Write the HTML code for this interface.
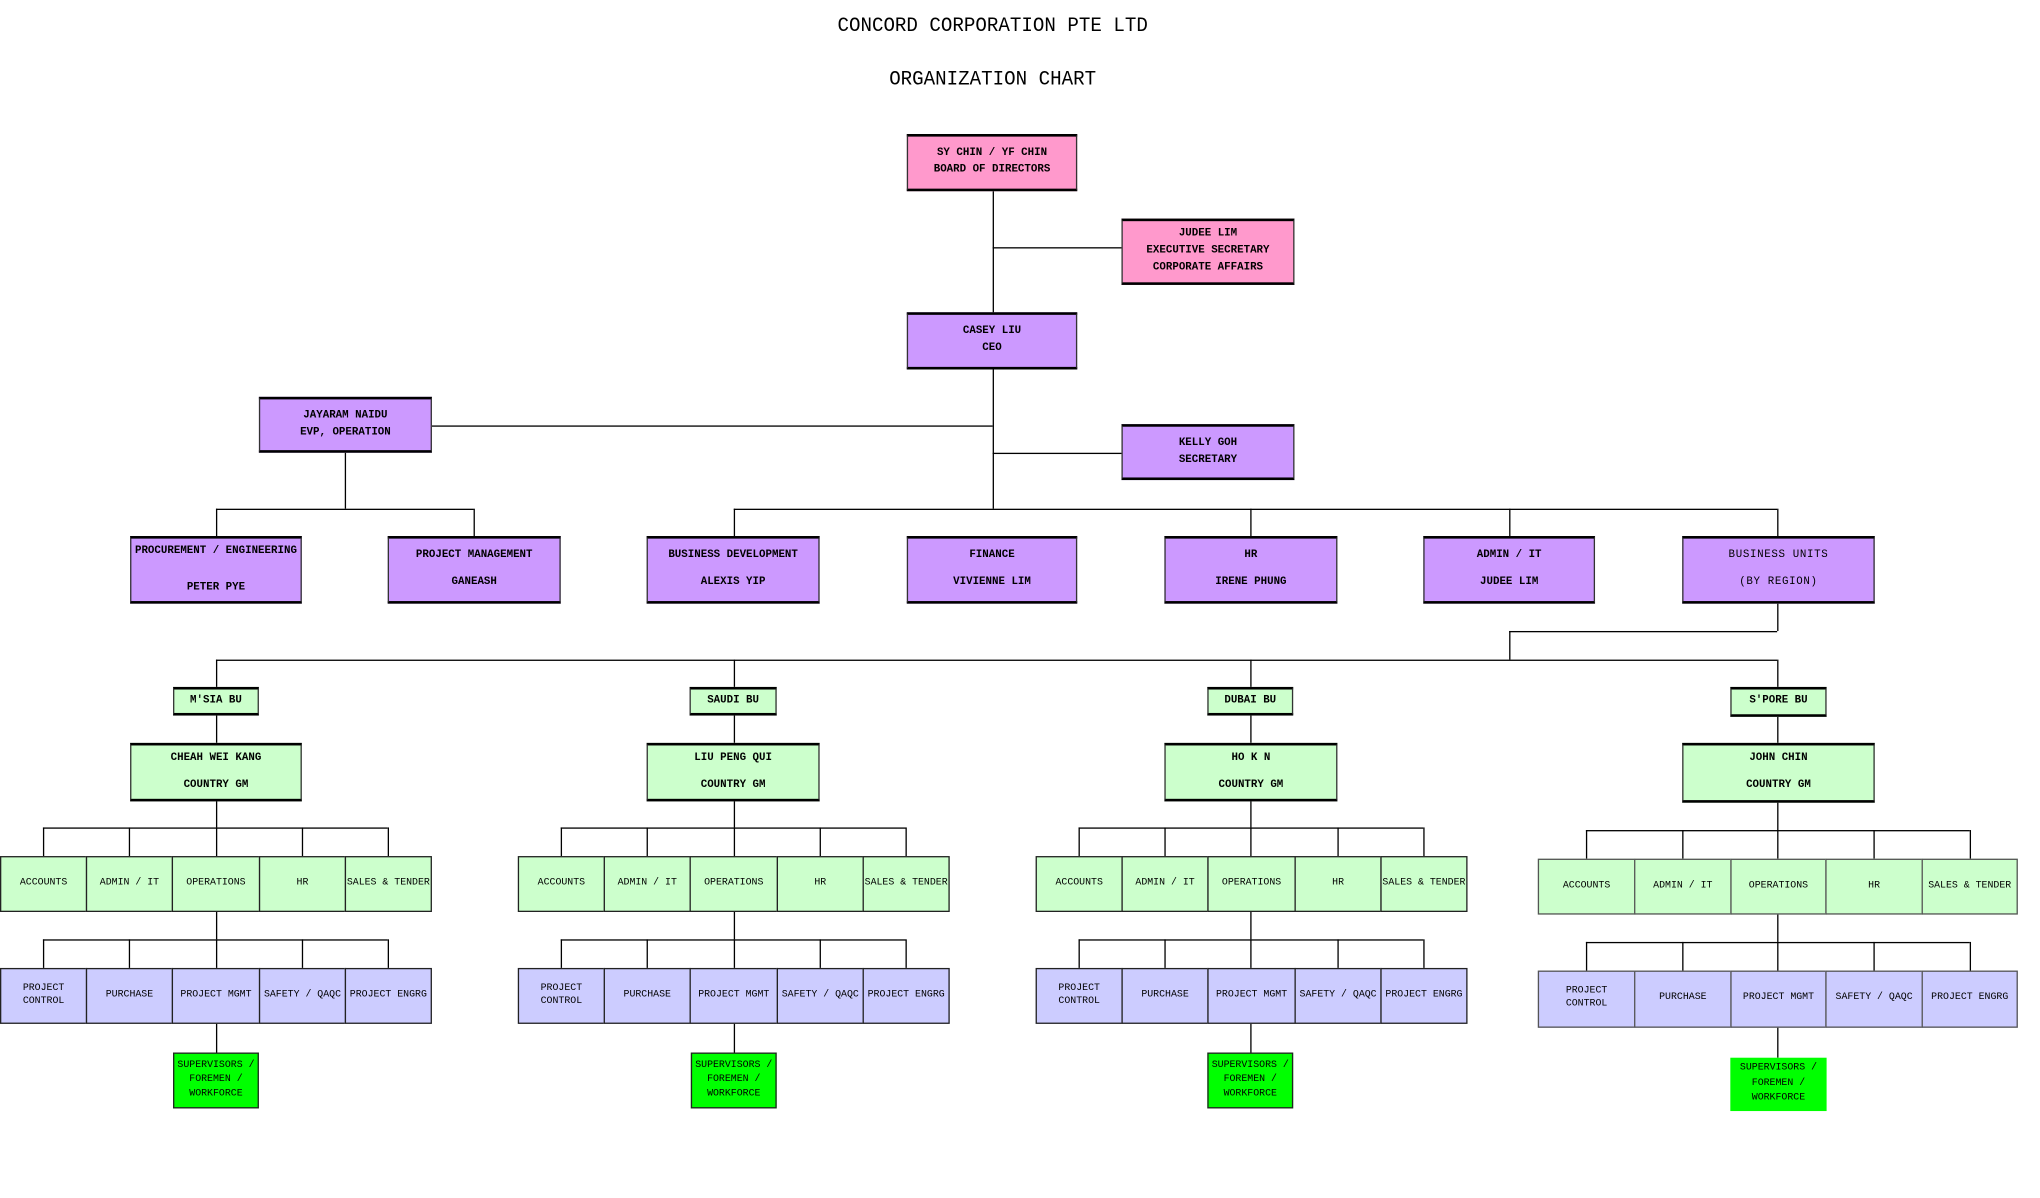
<!DOCTYPE html>
<html><head><meta charset="utf-8"><style>
html,body{margin:0;padding:0;background:#fff;width:2040px;height:1198px;overflow:hidden}
#s{position:absolute;left:0;top:0;width:1570px;height:921px;transform:scale(1.301);transform-origin:0 0;font-family:"Liberation Mono",monospace;color:#000}
.b{position:absolute;box-sizing:border-box;border:1px solid #333;border-top:2px solid #000;border-bottom:2px solid #000;display:flex;align-items:center;justify-content:center;flex-direction:column;text-align:center;font-size:8.3px;font-weight:bold;line-height:1.55;white-space:nowrap;overflow:hidden}
.c{position:absolute;box-sizing:border-box;border:1px solid #222;display:flex;align-items:center;justify-content:center;text-align:center;font-size:7.6px;line-height:1.3;white-space:nowrap;overflow:hidden}
.h{position:absolute;height:1px;background:#000}
.v{position:absolute;width:1px;background:#000}
.pk{background:#ff99cc}.pu{background:#cc99ff}.gr{background:#ccffcc}.bl{background:#ccccff}.gg{background:#00ff00}
.t{position:absolute;left:0;width:1526px;text-align:center;font-size:15.5px;transform:scaleX(0.95)}
</style></head><body><div id="s">
<div class="t" style="top:11px">CONCORD CORPORATION PTE LTD</div>
<div class="t" style="top:52px">ORGANIZATION CHART</div>

<div class="v" style="left:763px;top:147px;height:244px"></div>
<div class="h" style="left:763px;top:190px;width:99px"></div>
<div class="h" style="left:332px;top:327px;width:431px"></div>
<div class="h" style="left:763px;top:348px;width:99px"></div>
<div class="v" style="left:265px;top:348px;height:43px"></div>
<div class="h" style="left:166px;top:391px;width:198px"></div>
<div class="v" style="left:166px;top:391px;height:21px"></div>
<div class="v" style="left:364px;top:391px;height:21px"></div>
<div class="h" style="left:564px;top:391px;width:802px"></div>
<div class="v" style="left:564px;top:391px;height:21px"></div>
<div class="v" style="left:961px;top:391px;height:21px"></div>
<div class="v" style="left:1160px;top:391px;height:21px"></div>
<div class="v" style="left:1366px;top:391px;height:21px"></div>
<div class="v" style="left:1366px;top:464px;height:21px"></div>
<div class="h" style="left:1160px;top:485px;width:206px"></div>
<div class="v" style="left:1160px;top:485px;height:22px"></div>
<div class="h" style="left:166px;top:507px;width:1200px"></div>
<div class="v" style="left:166px;top:507px;height:21px"></div>
<div class="v" style="left:564px;top:507px;height:21px"></div>
<div class="v" style="left:961px;top:507px;height:21px"></div>
<div class="v" style="left:1366px;top:507px;height:21px"></div>
<div class="v" style="left:166px;top:550px;height:21px"></div>
<div class="v" style="left:564px;top:550px;height:21px"></div>
<div class="v" style="left:961px;top:550px;height:21px"></div>
<div class="v" style="left:1366px;top:551px;height:20px"></div>

<div class="b pk" style="left:697px;top:103px;width:131px;height:44px"><div>SY CHIN / YF CHIN</div><div>BOARD OF DIRECTORS</div></div>
<div class="b pk" style="left:862px;top:168px;width:133px;height:51px"><div>JUDEE LIM</div><div>EXECUTIVE SECRETARY</div><div>CORPORATE AFFAIRS</div></div>
<div class="b pu" style="left:697px;top:240px;width:131px;height:44px"><div>CASEY LIU</div><div>CEO</div></div>
<div class="b pu" style="left:199px;top:305px;width:133px;height:43px"><div>JAYARAM NAIDU</div><div>EVP, OPERATION</div></div>
<div class="b pu" style="left:862px;top:326px;width:133px;height:43px"><div>KELLY GOH</div><div>SECRETARY</div></div>

<div class="b pu" style="left:100px;top:412px;width:132px;height:52px;line-height:2.2"><div>PROCUREMENT / ENGINEERING</div><div>&nbsp;</div><div style="margin-top:-8px">PETER PYE</div></div>
<div class="b pu" style="left:298px;top:412px;width:133px;height:52px;line-height:2.5"><div>PROJECT MANAGEMENT</div><div>GANEASH</div></div>
<div class="b pu" style="left:497px;top:412px;width:133px;height:52px;line-height:2.5"><div>BUSINESS DEVELOPMENT</div><div>ALEXIS YIP</div></div>
<div class="b pu" style="left:697px;top:412px;width:131px;height:52px;line-height:2.5"><div>FINANCE</div><div>VIVIENNE LIM</div></div>
<div class="b pu" style="left:895px;top:412px;width:133px;height:52px;line-height:2.5"><div>HR</div><div>IRENE PHUNG</div></div>
<div class="b pu" style="left:1094px;top:412px;width:132px;height:52px;line-height:2.5"><div>ADMIN / IT</div><div>JUDEE LIM</div></div>
<div class="b pu" style="left:1293px;top:412px;width:148px;height:52px;line-height:2.5;font-weight:normal;letter-spacing:0.5px"><div>BUSINESS UNITS</div><div>(BY REGION)</div></div>

<div class="b gr" style="left:133px;top:528px;width:66px;height:22px"><div>M'SIA BU</div></div>
<div class="b gr" style="left:530px;top:528px;width:67px;height:22px"><div>SAUDI BU</div></div>
<div class="b gr" style="left:928px;top:528px;width:66px;height:22px"><div>DUBAI BU</div></div>
<div class="b gr" style="left:1330px;top:528px;width:74px;height:23px"><div>S'PORE BU</div></div>

<div class="b gr" style="left:100px;top:571px;width:132px;height:45px;line-height:2.5"><div>CHEAH WEI KANG</div><div>COUNTRY GM</div></div>
<div class="b gr" style="left:497px;top:571px;width:133px;height:45px;line-height:2.5"><div>LIU PENG QUI</div><div>COUNTRY GM</div></div>
<div class="b gr" style="left:895px;top:571px;width:133px;height:45px;line-height:2.5"><div>HO K N</div><div>COUNTRY GM</div></div>
<div class="b gr" style="left:1293px;top:571px;width:148px;height:46px;line-height:2.5"><div>JOHN CHIN</div><div>COUNTRY GM</div></div>

<div class="v" style="left:166px;top:616px;height:20px"></div>
<div class="h" style="left:33px;top:636px;width:265px"></div>
<div class="v" style="left:33px;top:636px;height:22px"></div><div class="v" style="left:99px;top:636px;height:22px"></div><div class="v" style="left:166px;top:636px;height:22px"></div><div class="v" style="left:232px;top:636px;height:22px"></div><div class="v" style="left:298px;top:636px;height:22px"></div>
<div class="c gr" style="left:0px;top:658px;width:67px;height:43px">ACCOUNTS</div>
<div class="c gr" style="left:66px;top:658px;width:67px;height:43px">ADMIN / IT</div>
<div class="c gr" style="left:132px;top:658px;width:68px;height:43px">OPERATIONS</div>
<div class="c gr" style="left:199px;top:658px;width:67px;height:43px">HR</div>
<div class="c gr" style="left:265px;top:658px;width:67px;height:43px">SALES &amp; TENDER</div>
<div class="v" style="left:166px;top:701px;height:21px"></div>
<div class="h" style="left:33px;top:722px;width:265px"></div>
<div class="v" style="left:33px;top:722px;height:22px"></div><div class="v" style="left:99px;top:722px;height:22px"></div><div class="v" style="left:166px;top:722px;height:22px"></div><div class="v" style="left:232px;top:722px;height:22px"></div><div class="v" style="left:298px;top:722px;height:22px"></div>
<div class="c bl" style="left:0px;top:744px;width:67px;height:43px">PROJECT<br>CONTROL</div>
<div class="c bl" style="left:66px;top:744px;width:67px;height:43px">PURCHASE</div>
<div class="c bl" style="left:132px;top:744px;width:68px;height:43px">PROJECT MGMT</div>
<div class="c bl" style="left:199px;top:744px;width:67px;height:43px">SAFETY / QAQC</div>
<div class="c bl" style="left:265px;top:744px;width:67px;height:43px">PROJECT ENGRG</div>
<div class="v" style="left:166px;top:787px;height:22px"></div>
<div class="c gg" style="left:133px;top:809px;width:66px;height:43px;line-height:1.45">SUPERVISORS /<br>FOREMEN /<br>WORKFORCE</div>

<div class="v" style="left:564px;top:616px;height:20px"></div>
<div class="h" style="left:431px;top:636px;width:265px"></div>
<div class="v" style="left:431px;top:636px;height:22px"></div><div class="v" style="left:497px;top:636px;height:22px"></div><div class="v" style="left:564px;top:636px;height:22px"></div><div class="v" style="left:630px;top:636px;height:22px"></div><div class="v" style="left:696px;top:636px;height:22px"></div>
<div class="c gr" style="left:398px;top:658px;width:67px;height:43px">ACCOUNTS</div>
<div class="c gr" style="left:464px;top:658px;width:67px;height:43px">ADMIN / IT</div>
<div class="c gr" style="left:530px;top:658px;width:68px;height:43px">OPERATIONS</div>
<div class="c gr" style="left:597px;top:658px;width:67px;height:43px">HR</div>
<div class="c gr" style="left:663px;top:658px;width:67px;height:43px">SALES &amp; TENDER</div>
<div class="v" style="left:564px;top:701px;height:21px"></div>
<div class="h" style="left:431px;top:722px;width:265px"></div>
<div class="v" style="left:431px;top:722px;height:22px"></div><div class="v" style="left:497px;top:722px;height:22px"></div><div class="v" style="left:564px;top:722px;height:22px"></div><div class="v" style="left:630px;top:722px;height:22px"></div><div class="v" style="left:696px;top:722px;height:22px"></div>
<div class="c bl" style="left:398px;top:744px;width:67px;height:43px">PROJECT<br>CONTROL</div>
<div class="c bl" style="left:464px;top:744px;width:67px;height:43px">PURCHASE</div>
<div class="c bl" style="left:530px;top:744px;width:68px;height:43px">PROJECT MGMT</div>
<div class="c bl" style="left:597px;top:744px;width:67px;height:43px">SAFETY / QAQC</div>
<div class="c bl" style="left:663px;top:744px;width:67px;height:43px">PROJECT ENGRG</div>
<div class="v" style="left:564px;top:787px;height:22px"></div>
<div class="c gg" style="left:531px;top:809px;width:66px;height:43px;line-height:1.45">SUPERVISORS /<br>FOREMEN /<br>WORKFORCE</div>

<div class="v" style="left:961px;top:616px;height:20px"></div>
<div class="h" style="left:829px;top:636px;width:265px"></div>
<div class="v" style="left:829px;top:636px;height:22px"></div><div class="v" style="left:895px;top:636px;height:22px"></div><div class="v" style="left:961px;top:636px;height:22px"></div><div class="v" style="left:1028px;top:636px;height:22px"></div><div class="v" style="left:1094px;top:636px;height:22px"></div>
<div class="c gr" style="left:796px;top:658px;width:67px;height:43px">ACCOUNTS</div>
<div class="c gr" style="left:862px;top:658px;width:67px;height:43px">ADMIN / IT</div>
<div class="c gr" style="left:928px;top:658px;width:68px;height:43px">OPERATIONS</div>
<div class="c gr" style="left:995px;top:658px;width:67px;height:43px">HR</div>
<div class="c gr" style="left:1061px;top:658px;width:67px;height:43px">SALES &amp; TENDER</div>
<div class="v" style="left:961px;top:701px;height:21px"></div>
<div class="h" style="left:829px;top:722px;width:265px"></div>
<div class="v" style="left:829px;top:722px;height:22px"></div><div class="v" style="left:895px;top:722px;height:22px"></div><div class="v" style="left:961px;top:722px;height:22px"></div><div class="v" style="left:1028px;top:722px;height:22px"></div><div class="v" style="left:1094px;top:722px;height:22px"></div>
<div class="c bl" style="left:796px;top:744px;width:67px;height:43px">PROJECT<br>CONTROL</div>
<div class="c bl" style="left:862px;top:744px;width:67px;height:43px">PURCHASE</div>
<div class="c bl" style="left:928px;top:744px;width:68px;height:43px">PROJECT MGMT</div>
<div class="c bl" style="left:995px;top:744px;width:67px;height:43px">SAFETY / QAQC</div>
<div class="c bl" style="left:1061px;top:744px;width:67px;height:43px">PROJECT ENGRG</div>
<div class="v" style="left:961px;top:787px;height:22px"></div>
<div class="c gg" style="left:928px;top:809px;width:66px;height:43px;line-height:1.45">SUPERVISORS /<br>FOREMEN /<br>WORKFORCE</div>

<div class="v" style="left:1366px;top:617px;height:21px"></div>
<div class="h" style="left:1219px;top:638px;width:295px"></div>
<div class="v" style="left:1219px;top:638px;height:22px"></div><div class="v" style="left:1293px;top:638px;height:22px"></div><div class="v" style="left:1366px;top:638px;height:22px"></div><div class="v" style="left:1440px;top:638px;height:22px"></div><div class="v" style="left:1514px;top:638px;height:22px"></div>
<div class="c gr" style="left:1182px;top:660px;width:75px;height:43px;border-color:#555">ACCOUNTS</div>
<div class="c gr" style="left:1256px;top:660px;width:75px;height:43px;border-color:#555">ADMIN / IT</div>
<div class="c gr" style="left:1330px;top:660px;width:74px;height:43px;border-color:#555">OPERATIONS</div>
<div class="c gr" style="left:1403px;top:660px;width:75px;height:43px;border-color:#555">HR</div>
<div class="c gr" style="left:1477px;top:660px;width:74px;height:43px;border-color:#555">SALES &amp; TENDER</div>
<div class="v" style="left:1366px;top:703px;height:21px"></div>
<div class="h" style="left:1219px;top:724px;width:295px"></div>
<div class="v" style="left:1219px;top:724px;height:22px"></div><div class="v" style="left:1293px;top:724px;height:22px"></div><div class="v" style="left:1366px;top:724px;height:22px"></div><div class="v" style="left:1440px;top:724px;height:22px"></div><div class="v" style="left:1514px;top:724px;height:22px"></div>
<div class="c bl" style="left:1182px;top:746px;width:75px;height:44px;border-color:#555">PROJECT<br>CONTROL</div>
<div class="c bl" style="left:1256px;top:746px;width:75px;height:44px;border-color:#555">PURCHASE</div>
<div class="c bl" style="left:1330px;top:746px;width:74px;height:44px;border-color:#555">PROJECT MGMT</div>
<div class="c bl" style="left:1403px;top:746px;width:75px;height:44px;border-color:#555">SAFETY / QAQC</div>
<div class="c bl" style="left:1477px;top:746px;width:74px;height:44px;border-color:#555">PROJECT ENGRG</div>
<div class="v" style="left:1366px;top:790px;height:23px"></div>
<div class="c gg" style="left:1330px;top:813px;width:74px;height:41px;line-height:1.55;border:none">SUPERVISORS /<br>FOREMEN /<br>WORKFORCE</div>
</div></body></html>
